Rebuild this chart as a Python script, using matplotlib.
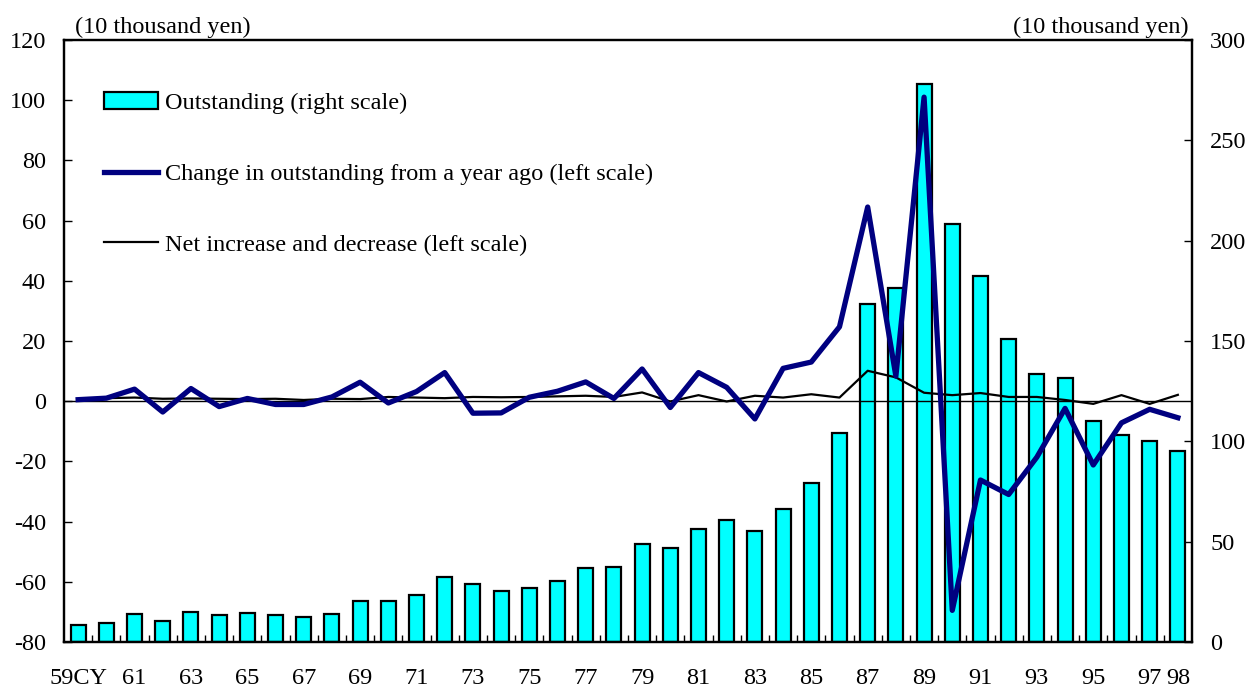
import matplotlib.pyplot as plt
import numpy as np

plt.rcParams['font.family'] = ['Liberation Serif', 'DejaVu Serif']
plt.rcParams['font.size'] = 17.5
plt.rcParams['axes.unicode_minus'] = False

years = list(range(1959, 1999))

# outstanding, right scale (10 thousand yen)
outstanding = [8.7, 9.6, 13.7, 10.7, 14.9, 13.4, 14.2, 13.4, 12.4, 13.9,
               20.4, 20.4, 23.2, 32.5, 29.1, 25.5, 27.1, 30.4, 36.9, 37.6,
               48.8, 46.6, 56.1, 60.9, 55.2, 66.1, 79.2, 104.0, 168.5, 176.5,
               278.0, 208.5, 182.5, 151.0, 133.5, 131.5, 110.0, 103.0, 100.0, 95.0]

# change from a year ago, left scale
change = [0.5, 1.0, 4.0, -3.6, 4.2, -1.8, 0.9, -1.1, -1.1, 1.4,
          6.3, -0.6, 3.2, 9.5, -4.0, -3.9, 1.3, 3.3, 6.4, 0.9,
          10.7, -2.1, 9.5, 4.6, -5.9, 10.9, 13.0, 24.7, 64.5, 8.3,
          101.0, -69.5, -26.2, -31.0, -18.6, -2.4, -21.2, -7.2, -2.7, -5.5]

# net increase and decrease, left scale
net = [0.5, 1.0, 1.2, 0.8, 0.9, 0.8, 0.7, 0.8, 0.4, 0.8,
       0.7, 1.4, 1.2, 1.0, 1.4, 1.3, 1.4, 1.6, 1.8, 1.4,
       2.9, -0.1, 2.0, -0.1, 1.8, 1.2, 2.3, 1.2, 10.1, 7.9,
       2.8, 2.0, 2.7, 1.4, 1.4, 0.4, -0.9, 2.0, -0.9, 2.1]

tick_years = list(range(1959, 1998, 2)) + [1998]
tick_labels = ["59CY"] + [str(y)[2:] for y in tick_years[1:]]

fig = plt.figure(figsize=(12.51, 6.88), dpi=100)
ax = fig.add_axes([0.0512, 0.0669, 0.9016, 0.875])
ax2 = ax.twinx()

bars = ax2.bar(years, outstanding, width=0.53, color="#00FFFF",
               edgecolor="black", linewidth=1.6, label="Outstanding (right scale)")
ax2.set_ylim(0, 300)
ax2.set_yticks(np.arange(0, 301, 50))

ax.set_zorder(ax2.get_zorder() + 1)
ax.patch.set_visible(False)

ax.axhline(0, color="black", lw=1.0, zorder=1)
l1, = ax.plot(years, change, color="#000080", lw=3.8,
              label="Change in outstanding from a year ago (left scale)", zorder=3)
l2, = ax.plot(years, net, color="black", lw=1.6,
              label="Net increase and decrease (left scale)", zorder=2)

ax.set_ylim(-80, 120)
ax.set_yticks(np.arange(-80, 121, 20))
ax.set_xlim(1958.5, 1998.5)
ax.set_xticks(tick_years)
ax.set_xticklabels(tick_labels)
ax.set_xticks(np.arange(1959.5, 1998.5, 1), minor=True)

ax.tick_params(axis="x", which="major", length=0, pad=19)
ax.tick_params(axis="x", which="minor", direction="in", length=5, width=1)
ax.tick_params(axis="y", direction="in", length=6, width=1, pad=13)
ax2.tick_params(axis="y", direction="in", length=6, width=1, pad=13)

for a in (ax, ax2):
    for s in a.spines.values():
        s.set_linewidth(1.6)

ax.text(0.01, 1.004, "(10 thousand yen)", transform=ax.transAxes,
        ha="left", va="bottom")
ax.text(0.997, 1.004, "(10 thousand yen)", transform=ax.transAxes,
        ha="right", va="bottom")

ax.legend([bars, l1, l2], [bars.get_label(), l1.get_label(), l2.get_label()],
          loc="upper left", bbox_to_anchor=(0.025, 0.933), frameon=False,
          labelspacing=2.0, handlelength=2.2, handletextpad=0.3,
          handleheight=0.7, borderpad=0)

fig.savefig("out.png", dpi=100)
